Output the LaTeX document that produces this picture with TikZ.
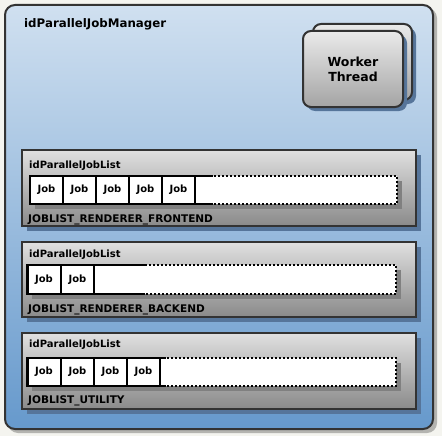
\documentclass[tikz,border=0pt]{standalone}
\usepackage{fontspec}
\setmainfont{DejaVu Sans}
\definecolor{bgc}{HTML}{F4F4EF}
\definecolor{outtop}{HTML}{D0E0F0}
\definecolor{outbot}{HTML}{6699CC}
\definecolor{boxtop}{HTML}{E0E0E0}
\definecolor{boxbot}{HTML}{8A8A8A}
\definecolor{wttop}{HTML}{EAEAEA}
\definecolor{wtbot}{HTML}{A4A4A4}
\definecolor{edge}{HTML}{333333}
\definecolor{bshadow}{HTML}{56759A}
\definecolor{oshadow}{HTML}{B4B4B0}
\definecolor{sshadow}{HTML}{808080}
\tikzset{
  outerbox/.style={draw=edge, line width=2pt, rounded corners=10pt, top color=outtop, bottom color=outbot, inner sep=0pt},
  listbox/.style={draw=edge, line width=2pt, top color=boxtop, bottom color=boxbot, inner sep=0pt, minimum width=394pt, minimum height=76pt},
  wtbox/.style={draw=edge, line width=2pt, rounded corners=8pt, top color=wttop, bottom color=wtbot, inner sep=0pt, minimum width=100pt, minimum height=76pt, align=center, font=\bfseries\fontsize{12.5}{15}\selectfont},
  job/.style={draw=black, line width=2pt, fill=white, inner sep=0pt, minimum width=33pt, minimum height=28pt, font=\bfseries\fontsize{10}{12}\selectfont},
  lbl/.style={anchor=base west, inner sep=0pt, font=\bfseries\fontsize{10}{12}\selectfont},
  lblb/.style={anchor=base west, inner sep=0pt, font=\bfseries\fontsize{10.5}{12}\selectfont},
  dotline/.style={line width=2pt, dash pattern=on 2pt off 2pt},
  solidline/.style={line width=2pt}
}
\begin{document}
\begin{tikzpicture}[x=1pt,y=-1pt]
\fill[bgc] (0,0) rectangle (442,436);
\useasboundingbox (0,0) rectangle (442,436);
% outer manager box
\fill[oshadow, rounded corners=10pt] (8,8) rectangle (437,433);
\node[outerbox, minimum width=428pt, minimum height=424pt] (mgr) at (219,217) {};
\node[anchor=base west, inner sep=0pt, font=\bfseries\fontsize{11.8}{14}\selectfont] (mgrtitle) at (24,28) {idParallelJobManager};
% worker thread
\fill[bshadow, rounded corners=8pt] (317,28) rectangle (416,104);
\node[wtbox, minimum width=99pt] (wtback) at (362.5,62) {};
\fill[bshadow, rounded corners=8pt] (307,35) rectangle (407,111);
\node[wtbox] (wt) at (353,69) {Worker\\Thread};
% list 1
\fill[bshadow] (27,155) rectangle (421,231);
\node[listbox] (l1) at (219,188) {};
\node[lbl] (l1t) at (29,168) {idParallelJobList};
\fill[sshadow] (35,181) rectangle (402,209);
\fill[white] (30,176) rectangle (397,204);
\draw[dotline] (30,176) rectangle (397,204);
\draw[solidline] (213,176) -- (30,176) -- (30,204) -- (213,204);
\node[job] (j11) at (46.5,190) {Job};
\node[job] (j12) at (79.5,190) {Job};
\node[job] (j13) at (112.5,190) {Job};
\node[job] (j14) at (145.5,190) {Job};
\node[job] (j15) at (178.5,190) {Job};
\node[lblb] (l1b) at (28,222) {JOBLIST\_RENDERER\_FRONTEND};
% list 2
\fill[bshadow] (27,247) rectangle (421,322);
\node[listbox, minimum height=75pt] (l2) at (219,279.5) {};
\node[lbl] (l2t) at (29,257) {idParallelJobList};
\fill[sshadow] (32,270) rectangle (401,299);
\fill[white] (27,265) rectangle (396,294);
\draw[dotline] (27,265) rectangle (396,294);
\draw[solidline] (145,265) -- (27,265) -- (27,294) -- (145,294);
\node[job, minimum height=29pt] (j21) at (44,279.5) {Job};
\node[job, minimum height=29pt] (j22) at (77.5,279.5) {Job};
\node[lblb] (l2b) at (28,312) {JOBLIST\_RENDERER\_BACKEND};
% list 3
\fill[bshadow] (27,338) rectangle (421,414);
\node[listbox] (l3) at (219,371) {};
\node[lbl] (l3t) at (29,347) {idParallelJobList};
\fill[sshadow] (32,363) rectangle (401,391);
\fill[white] (27,358) rectangle (396,386);
\draw[dotline] (27,358) rectangle (396,386);
\draw[solidline] (166,358) -- (27,358) -- (27,386) -- (166,386);
\node[job] (j31) at (44,372) {Job};
\node[job] (j32) at (77.5,372) {Job};
\node[job] (j33) at (110.5,372) {Job};
\node[job] (j34) at (143.5,372) {Job};
\node[lblb] (l3b) at (28,403) {JOBLIST\_UTILITY};
\end{tikzpicture}
\end{document}
